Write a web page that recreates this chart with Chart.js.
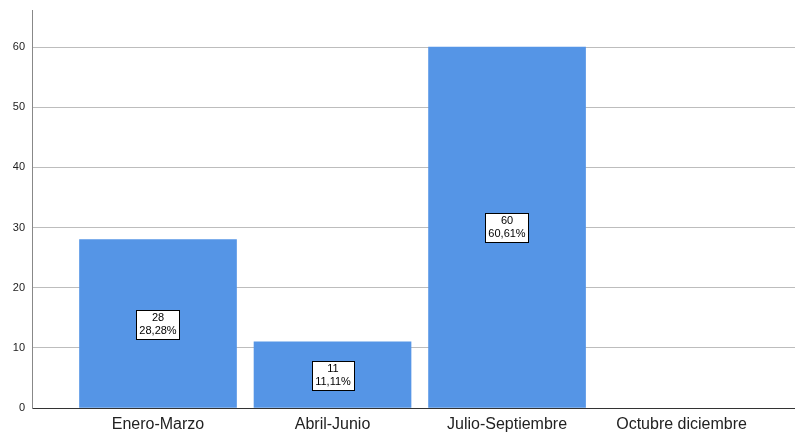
<!DOCTYPE html>
<html><head><meta charset="utf-8">
<script src="https://cdn.jsdelivr.net/npm/chart.js@4"></script>
<style>html,body{margin:0;padding:0;background:#fff;}canvas{display:block;}</style>
</head><body>
<canvas id="c" width="795" height="432"></canvas>
<script>
const categories = ["Enero-Marzo", "Abril-Junio", "Julio-Septiembre", "Octubre diciembre"];
const counts = [28, 11, 60, 0];
const yTicks = [0, 10, 20, 30, 40, 50, 60];

const total = counts.reduce((a, b) => a + b, 0);
const pctText = v => (v / total * 100).toFixed(2).replace('.', ',') + '%';

const labelPlugin = {
  id: 'boxLabels',
  afterDatasetsDraw(chart) {
    const ctx = chart.ctx;
    const meta = chart.getDatasetMeta(0);
    ctx.save();
    ctx.font = '11px "Liberation Sans", Arial, sans-serif';
    ctx.textAlign = 'center';
    ctx.textBaseline = 'middle';
    meta.data.forEach((bar, i) => {
      const v = counts[i];
      if (!v) return;
      const l1 = String(v), l2 = pctText(v);
      const w = Math.max(ctx.measureText(l1).width, ctx.measureText(l2).width) + 6;
      const h = 29;
      const cx = Math.round(bar.x), cy = Math.round((bar.y + bar.base) / 2);
      const x0 = Math.round(cx - w / 2) + 0.5, y0 = Math.round(cy - h / 2) + 0.5;
      ctx.fillStyle = '#fff';
      ctx.fillRect(x0, y0, Math.round(w), h);
      ctx.strokeStyle = '#000';
      ctx.lineWidth = 1;
      ctx.strokeRect(x0, y0, Math.round(w), h);
      ctx.fillStyle = '#000';
      ctx.fillText(l1, cx, cy - 6);
      ctx.fillText(l2, cx, cy + 7);
    });
    ctx.restore();
  }
};

function noPad(scale) {
  scale.paddingTop = 0;
  scale.paddingBottom = 0;
  scale.paddingLeft = 0;
  scale.paddingRight = 0;
}

new Chart(document.getElementById('c'), {
  type: 'bar',
  data: {
    datasets: [{
      data: counts.map((v, i) => ({ x: i, y: v || null })),
      backgroundColor: '#5595E6',
      borderWidth: 0,
      barThickness: 157
    }]
  },
  plugins: [labelPlugin],
  options: {
    responsive: false,
    animation: false,
    devicePixelRatio: 1,
    layout: { autoPadding: false, padding: { top: 10, right: 0, left: 0, bottom: 0 } },
    plugins: { legend: { display: false }, tooltip: { enabled: false } },
    scales: {
      x: {
        type: 'linear',
        offset: false,
        min: -0.722,
        max: 3.65,
        afterBuildTicks(scale) { scale.ticks = categories.map((c, i) => ({ value: i })); },
        afterFit(scale) { scale.height = 24; noPad(scale); },
        ticks: {
          callback: v => categories[v],
          font: { size: 16, family: '"Liberation Sans", Arial, sans-serif' },
          color: '#222',
          padding: 7,
          maxRotation: 0,
          autoSkip: false
        },
        grid: { display: false, drawTicks: false },
        border: { display: true, color: '#333', width: 1 }
      },
      y: {
        min: 0,
        max: 66.15,
        afterBuildTicks(scale) { scale.ticks = yTicks.map(v => ({ value: v })); },
        afterFit(scale) { scale.width = 32; noPad(scale); },
        ticks: {
          font: { size: 11, family: '"Liberation Sans", Arial, sans-serif' },
          color: '#222',
          padding: 7
        },
        grid: { color: '#bdbdbd', drawTicks: false, lineWidth: 1 },
        border: { display: true, color: '#888', width: 1 }
      }
    }
  }
});
</script>
</body></html>
